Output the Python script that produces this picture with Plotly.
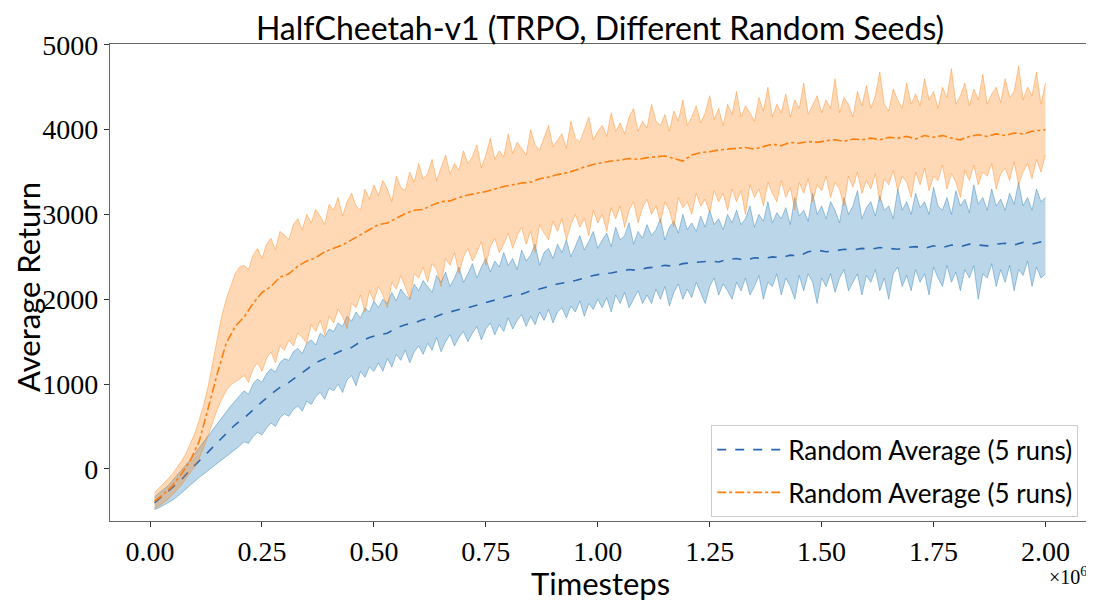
import plotly.graph_objects as go

# Timesteps for the mean curves and for the band edges
MEAN_TIMESTEPS = [10000 + 20000 * i for i in range(100)] + [2000000]
BAND_TIMESTEPS = [10000 * (i + 1) for i in range(200)]

# Series 1 (blue)
BLUE_MEAN = [-400, -310, -220, -130, -10, 90, 200, 310, 420, 520,
             600, 700, 790, 880, 960, 1020, 1100, 1180, 1250, 1300,
             1350, 1400, 1430, 1500, 1550, 1580, 1600, 1660, 1700, 1720,
             1760, 1780, 1820, 1850, 1880, 1900, 1930, 1960, 1990, 2020,
             2050, 2060, 2100, 2120, 2150, 2180, 2200, 2220, 2250, 2280,
             2300, 2310, 2330, 2350, 2340, 2370, 2380, 2400, 2390, 2420,
             2430, 2440, 2450, 2440, 2470, 2480, 2460, 2490, 2480, 2500,
             2490, 2520, 2510, 2560, 2580, 2560, 2570, 2590, 2580, 2600,
             2590, 2610, 2600, 2590, 2610, 2620, 2600, 2630, 2610, 2640,
             2620, 2650, 2640, 2630, 2650, 2660, 2640, 2670, 2650, 2680, 2690]
BLUE_UPPER = [-330, -290, -250, -200, -140, -80, -20, 40, 110, 180,
              250, 320, 400, 470, 540, 610, 680, 740, 800, 860,
              920, 880, 1000, 1060, 1020, 1120, 1180, 1140, 1250, 1300,
              1280, 1380, 1420, 1360, 1480, 1520, 1460, 1600, 1560, 1650,
              1620, 1720, 1680, 1800, 1740, 1850, 1780, 1900, 1850, 1980,
              1900, 2000, 1950, 2080, 1980, 2120, 2050, 2000, 2180, 2100,
              2220, 2150, 2080, 2280, 2200, 2320, 2150, 2250, 2380, 2200,
              2300, 2420, 2250, 2380, 2480, 2320, 2450, 2380, 2550, 2400,
              2480, 2350, 2580, 2450, 2520, 2650, 2400, 2550, 2600, 2480,
              2650, 2550, 2700, 2500, 2620, 2750, 2580, 2680, 2800, 2600,
              2700, 2780, 2620, 2850, 2700, 2750, 2900, 2650, 2800, 2720,
              2880, 2750, 2820, 2950, 2700, 2850, 2920, 2780, 3000, 2820,
              2900, 2800, 2980, 2850, 3050, 2880, 2950, 2820, 3000, 2900,
              3050, 2880, 2950, 3100, 2850, 3000, 2920, 3150, 2900, 3020,
              2950, 3080, 2880, 3200, 2980, 3050, 2920, 3250, 3000, 3100,
              2950, 3150, 3050, 2900, 3200, 3000, 3100, 3280, 2950, 3080,
              3150, 2980, 3220, 3050, 3100, 2950, 3300, 3050, 3150, 3000,
              3250, 3080, 3150, 3000, 3320, 3100, 3050, 3200, 3000, 3280,
              3100, 3180, 3020, 3350, 3120, 3200, 3050, 3300, 3100, 3180,
              3050, 3250, 3120, 3380, 3100, 3200, 3050, 3300, 3150, 3200]
BLUE_LOWER = [-480, -460, -430, -400, -370, -330, -290, -240, -190, -140,
              -100, -60, -20, 20, 60, 100, 140, 180, 230, 270,
              320, 300, 380, 430, 400, 480, 540, 500, 600, 650,
              620, 700, 740, 680, 800, 760, 850, 900, 820, 950,
              920, 1000, 900, 1050, 1100, 980, 1150, 1080, 1200, 1150,
              1250, 1150, 1300, 1200, 1350, 1280, 1400, 1250, 1380, 1450,
              1350, 1480, 1400, 1550, 1380, 1500, 1580, 1450, 1550, 1620,
              1500, 1600, 1680, 1520, 1650, 1720, 1580, 1700, 1620, 1780,
              1650, 1750, 1820, 1680, 1800, 1700, 1850, 1750, 1880, 1720,
              1850, 1900, 1780, 1920, 1850, 1980, 1800, 1950, 1880, 2000,
              1900, 2020, 1850, 2050, 1950, 2080, 1900, 2000, 2100, 1950,
              2050, 1950, 2120, 2000, 2150, 1920, 2080, 2180, 2000, 2120,
              2020, 2200, 2080, 1950, 2150, 2250, 2050, 2180, 2100, 2000,
              2200, 2100, 2250, 2050, 2150, 2280, 2000, 2200, 2150, 2300,
              2050, 2250, 2150, 2000, 2280, 2100, 2300, 2200, 1950, 2250,
              2150, 2300, 2080, 2250, 2350, 2100, 2200, 2300, 2050, 2280,
              2200, 2350, 2100, 2250, 2000, 2300, 2380, 2150, 2280, 2100,
              2350, 2200, 2300, 2050, 2380, 2250, 2150, 2400, 2200, 2320,
              2100, 2350, 2250, 2400, 2000, 2300, 2250, 2420, 2150, 2350,
              2200, 2400, 2100, 2350, 2280, 2450, 2150, 2380, 2250, 2300]

# Series 2 (orange)
ORANGE_MEAN = [-380, -300, -200, -60, 100, 330, 720, 1120, 1480, 1680,
               1790, 1950, 2080, 2150, 2260, 2300, 2390, 2450, 2490, 2560,
               2600, 2640, 2700, 2760, 2820, 2880, 2900, 2960, 3010, 3050,
               3060, 3110, 3150, 3160, 3200, 3230, 3250, 3270, 3300, 3330,
               3350, 3370, 3380, 3420, 3440, 3470, 3490, 3520, 3560, 3590,
               3610, 3630, 3640, 3660, 3650, 3670, 3680, 3690, 3660, 3630,
               3700, 3730, 3740, 3760, 3770, 3780, 3790, 3770, 3800, 3830,
               3810, 3850, 3840, 3860, 3850, 3870, 3880, 3860, 3890, 3880,
               3900, 3880, 3910, 3900, 3920, 3890, 3930, 3910, 3930, 3900,
               3880, 3920, 3940, 3920, 3950, 3930, 3960, 3950, 3980, 3990, 4000]
ORANGE_UPPER = [-280, -230, -180, -120, -60, 10, 90, 180, 290, 420,
                580, 760, 980, 1250, 1550, 1800, 2000, 2150, 2300, 2380,
                2400, 2350, 2520, 2600, 2480, 2650, 2720, 2580, 2800, 2760,
                2700, 2880, 2950, 2820, 3000, 2900, 3060, 2980, 2880, 3120,
                3050, 3200, 2980, 3150, 3250, 3100, 3050, 3300, 3180, 3350,
                3220, 3400, 3300, 3150, 3450, 3320, 3280, 3500, 3380, 3600,
                3420, 3480, 3650, 3400, 3550, 3700, 3480, 3600, 3520, 3750,
                3600, 3680, 3820, 3550, 3700, 3900, 3650, 3750, 3680, 3950,
                3720, 3850, 3780, 3700, 4000, 3820, 3760, 3900, 4050, 3800,
                3880, 3950, 3780, 4100, 3900, 3850, 4000, 4150, 3880, 3980,
                4050, 3920, 4200, 3980, 4080, 3950, 4150, 4250, 3980, 4100,
                4020, 4300, 4100, 4050, 4180, 3980, 4220, 4100, 4350, 4050,
                4150, 4280, 4080, 4200, 4400, 4120, 4250, 4050, 4300, 4180,
                4450, 4150, 4280, 4200, 4100, 4380, 4220, 4500, 4150, 4300,
                4200, 4420, 4150, 4350, 4250, 4550, 4180, 4300, 4400, 4200,
                4350, 4250, 4600, 4200, 4380, 4300, 4150, 4450, 4280, 4520,
                4250, 4400, 4680, 4300, 4220, 4480, 4350, 4250, 4550, 4300,
                4420, 4280, 4600, 4350, 4450, 4250, 4500, 4380, 4720, 4300,
                4400, 4550, 4280, 4480, 4350, 4650, 4300, 4420, 4500, 4320,
                4600, 4380, 4450, 4750, 4350, 4500, 4400, 4680, 4300, 4550]
ORANGE_LOWER = [-470, -440, -400, -360, -310, -250, -190, -120, -50, 30,
                130, 250, 400, 560, 700, 820, 920, 990, 1020, 1060,
                1100, 1020, 1180, 1250, 1150, 1300, 1380, 1250, 1450, 1400,
                1520, 1450, 1600, 1550, 1480, 1700, 1620, 1750, 1580, 1800,
                1720, 1880, 1800, 1650, 1950, 1900, 2050, 1850, 2100, 1980,
                2150, 2050, 1900, 2200, 2120, 2280, 2150, 2000, 2300, 2250,
                2380, 2200, 2420, 2350, 2150, 2480, 2400, 2550, 2300, 2500,
                2600, 2450, 2550, 2680, 2400, 2620, 2720, 2550, 2650, 2780,
                2600, 2750, 2850, 2650, 2800, 2550, 2880, 2780, 2700, 2920,
                2800, 2950, 2700, 2880, 3000, 2850, 2950, 2750, 3050, 2900,
                3000, 2800, 3080, 2950, 3100, 2850, 3050, 3150, 2900, 3080,
                3180, 3000, 3100, 2900, 3150, 3050, 2850, 3200, 3080, 3150,
                3000, 3250, 3100, 3180, 3020, 3280, 3150, 3250, 3050, 3300,
                3150, 3280, 3000, 3350, 3200, 3300, 3100, 3380, 3250, 3150,
                3400, 3200, 3320, 3050, 3380, 3250, 3420, 3150, 3350, 3280,
                3450, 3200, 3380, 3300, 3100, 3450, 3320, 3500, 3250, 3400,
                3300, 3480, 3150, 3420, 3350, 3520, 3280, 3450, 3380, 3200,
                3500, 3350, 3550, 3280, 3450, 3400, 3580, 3300, 3480, 3380,
                3200, 3520, 3400, 3580, 3350, 3500, 3450, 3600, 3300, 3480,
                3550, 3400, 3620, 3350, 3500, 3600, 3420, 3650, 3500, 3700]

LEGEND_LABELS = ["Random Average (5 runs)", "Random Average (5 runs)"]
X_TICKVALS = [0, 250000, 500000, 750000, 1000000, 1250000, 1500000, 1750000, 2000000]
X_TICKTEXT = ["0.00", "0.25", "0.50", "0.75", "1.00", "1.25", "1.50", "1.75", "2.00"]
Y_TICKVALS = [0, 1000, 2000, 3000, 4000, 5000]

SANS = "Lato, 'Open Sans', sans-serif"
SERIF = "'Liberation Serif', 'DejaVu Serif', serif"

fig = go.Figure()

series = [
    (BLUE_MEAN, BLUE_UPPER, BLUE_LOWER, (31, 119, 180), "#2a66b0", "dash", LEGEND_LABELS[0], "g1"),
    (ORANGE_MEAN, ORANGE_UPPER, ORANGE_LOWER, (255, 127, 14), "#ff7f0e", "dashdot", LEGEND_LABELS[1], "g2"),
]

for mean, upper, lower, rgb, lc, dash, label, grp in series:
    r, g, b = rgb
    fig.add_trace(go.Scatter(x=BAND_TIMESTEPS, y=lower, mode="lines",
                             line=dict(color=f"rgba({r},{g},{b},0.4)", width=1),
                             showlegend=False, hoverinfo="skip"))
    fig.add_trace(go.Scatter(x=BAND_TIMESTEPS, y=upper, mode="lines", fill="tonexty",
                             fillcolor=f"rgba({r},{g},{b},0.3)",
                             line=dict(color=f"rgba({r},{g},{b},0.4)", width=1),
                             showlegend=False, hoverinfo="skip"))
    fig.add_trace(go.Scatter(x=MEAN_TIMESTEPS, y=mean, mode="lines", name=label,
                             legendgroup=grp,
                             line=dict(color=lc, width=1.6, dash=dash)))

# The page body adds an 8px offset, so the figure is sized to fill 1094x601 from there.
FIG_W, FIG_H = 1086, 593

fig.update_layout(
    width=FIG_W, height=FIG_H,
    margin=dict(l=102, r=4, t=36, b=80),
    paper_bgcolor="white", plot_bgcolor="white",
    title=dict(text="HalfCheetah-v1 (TRPO, Different Random Seeds)",
               x=0.5, xref="paper", y=1 - 21 / FIG_H, yref="container",
               xanchor="center", yanchor="middle",
               font=dict(family=SANS, size=32, color="black")),
    legend=dict(x=0.988, y=0.008, xanchor="right", yanchor="bottom",
                bgcolor="rgba(255,255,255,0.85)", bordercolor="#cccccc", borderwidth=1,
                font=dict(family=SANS, size=26, color="black"),
                traceorder="grouped", tracegroupgap=6, itemwidth=66),
    showlegend=True,
)

fig.update_xaxes(range=[-89500, 2099500], tickvals=X_TICKVALS, ticktext=X_TICKTEXT,
                 showgrid=False, zeroline=False, showline=True, linecolor="#666666",
                 linewidth=1.2, mirror=True, ticks="outside", ticklen=5, tickcolor="#333333",
                 tickfont=dict(family=SERIF, size=28, color="black"))
fig.update_yaxes(range=[-615, 5010], tickvals=Y_TICKVALS,
                 showgrid=False, zeroline=False, showline=True, linecolor="#666666",
                 linewidth=1.2, mirror=True, ticks="outside", ticklen=5, tickcolor="#333333",
                 tickfont=dict(family=SERIF, size=28, color="black"))

fig.add_annotation(text="Average Return", xref="paper", yref="paper",
                   x=(28 - 110) / 980, y=(521 - 287) / 477, textangle=-90,
                   showarrow=False, xanchor="center", yanchor="middle",
                   font=dict(family=SANS, size=31, color="black"))
fig.add_annotation(text="Timesteps", xref="paper", yref="paper",
                   x=0.5, y=(521 - 583) / 477, showarrow=False,
                   xanchor="center", yanchor="middle",
                   font=dict(family=SANS, size=31, color="black"))
fig.add_annotation(text="×10<sup>6</sup>", xref="paper", yref="paper",
                   x=(1068 - 110) / 980, y=(521 - 576) / 477, showarrow=False,
                   xanchor="center", yanchor="middle",
                   font=dict(family=SERIF, size=20, color="black"))

fig.write_html("out.html")
